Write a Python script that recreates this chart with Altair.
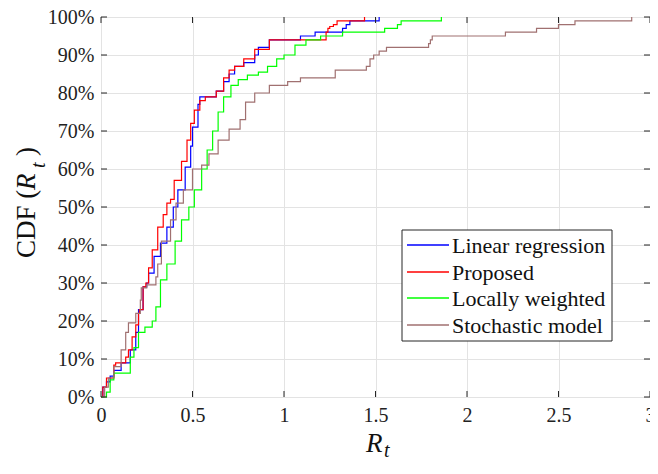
import altair as alt
import pandas as pd

series_names = ["Linear regression", "Proposed", "Locally weighted", "Stochastic model"]
series_colors = ["#0000FF", "#FF0000", "#00FF00", "#A07070"]

lr_x = [0, 0.01, 0.03, 0.05, 0.07, 0.11, 0.16, 0.19, 0.205, 0.23, 0.25, 0.26, 0.29, 0.325,
        0.36, 0.395, 0.42, 0.46, 0.49, 0.50, 0.53, 0.54, 0.63, 0.67, 0.70, 0.73, 0.78,
        0.84, 0.86, 0.92, 1.09, 1.17, 1.32, 1.34, 1.36, 1.52]
lr_cdf = [0, 2.6, 4, 5.5, 7, 9, 12.4, 17, 23, 29, 30, 32.6, 37, 40.5,
          44.7, 50, 54.5, 60.5, 66, 71, 77, 79, 80.5, 83, 85, 87, 88,
          90, 92, 94, 95, 96, 97, 98, 99, 100]

pr_x = [0, 0.01, 0.03, 0.07, 0.08, 0.135, 0.15, 0.17, 0.19, 0.205, 0.21, 0.23, 0.245, 0.26,
        0.28, 0.31, 0.34, 0.36, 0.38, 0.40, 0.44, 0.47, 0.49, 0.51, 0.54, 0.57, 0.63,
        0.67, 0.70, 0.73, 0.78, 0.84, 0.92, 1.23, 1.24, 1.25, 1.27, 1.29, 1.44]
pr_cdf = [0, 2.6, 5, 8.4, 9, 10.5, 12.4, 15.8, 19, 22, 23, 29, 30, 34,
          38.7, 44.7, 48, 51, 52, 57, 62, 67.6, 72, 75.5, 78, 79, 80.5,
          84, 86, 87, 89, 91.5, 94, 96, 97, 97.5, 98, 99, 100]

lw_x = [0, 0.03, 0.05, 0.07, 0.16, 0.18, 0.205, 0.24, 0.28, 0.30, 0.325, 0.36, 0.405, 0.44,
        0.48, 0.51, 0.55, 0.58, 0.61, 0.64, 0.67, 0.71, 0.75, 0.80, 0.86, 0.91, 0.96,
        1.0, 1.06, 1.12, 1.2, 1.32, 1.55, 1.62, 1.64, 1.86]
lw_cdf = [0, 1.3, 4.5, 6.3, 10.5, 13, 17, 18.4, 20, 23.7, 30.8, 35, 41, 46.6,
          50, 54.5, 60, 65, 70, 75, 79, 82, 83.5, 84.7, 85.5, 87, 89,
          90, 92.6, 94, 95, 96, 97, 98, 99, 100]

sm_x = [0, 0.02, 0.04, 0.07, 0.11, 0.135, 0.15, 0.19, 0.215, 0.22, 0.25, 0.30, 0.31, 0.33,
        0.38, 0.41, 0.45, 0.50, 0.55, 0.59, 0.64, 0.70, 0.76, 0.79, 0.84, 0.92, 1.02,
        1.09, 1.28, 1.45, 1.47, 1.49, 1.52, 1.56, 1.79, 1.80, 1.81, 2.21, 2.38, 2.50,
        2.59, 2.90]
sm_cdf = [0, 2.6, 5, 8, 12.4, 17, 19.5, 22, 25.5, 28.7, 29.5, 31.6, 35, 41,
          46.6, 51, 54.5, 60, 61, 64, 67.6, 70.5, 73, 77.6, 80, 82, 83,
          84, 86, 87, 89, 90, 91, 92, 93, 94, 95, 96, 97, 98,
          99, 100]

x_ticks = [0, 0.5, 1, 1.5, 2, 2.5, 3]
y_ticks = [0, 10, 20, 30, 40, 50, 60, 70, 80, 90, 100]

series_x = [lr_x, pr_x, lw_x, sm_x]
series_y = [lr_cdf, pr_cdf, lw_cdf, sm_cdf]

W, H = 549, 380
LEFT = 93
FONT = "Liberation Serif"
FRAME = "#262626"

x_scale = alt.Scale(domain=[0, 3], nice=False)
y_scale = alt.Scale(domain=[0, 100], nice=False)

X_AXIS = alt.Axis(values=x_ticks, grid=True, gridColor="#e3e3e3", ticks=False,
                  domain=False, labelFont=FONT, labelFontSize=20, labelColor="#222",
                  labelPadding=8, title=None, labelFlush=False, format="~g")
Y_AXIS = alt.Axis(values=y_ticks, grid=True, gridColor="#e3e3e3", ticks=False,
                  domain=False, labelFont=FONT, labelFontSize=20, labelColor="#222",
                  labelPadding=7, title=None, labelExpr="datum.value + '%'")

one = pd.DataFrame({"a": [0]})

layers = []
for i, (name, col) in enumerate(zip(series_names, series_colors)):
    df = pd.DataFrame({"x": series_x[i], "y": series_y[i], "s": name})
    layers.append(
        alt.Chart(df).mark_line(interpolate="step-after", color=col, strokeWidth=1.2).encode(
            x=alt.X("x:Q", scale=x_scale, axis=X_AXIS),
            y=alt.Y("y:Q", scale=y_scale, axis=Y_AXIS),
            order=alt.Order("x:Q"),
        )
    )

# inward ticks
xt = pd.DataFrame({"x": x_ticks})
yt = pd.DataFrame({"y": y_ticks})
layers.append(alt.Chart(xt).mark_rule(color=FRAME).encode(
    x=alt.X("x:Q", scale=x_scale, axis=X_AXIS), y=alt.value(H), y2=alt.value(H - 6)))
layers.append(alt.Chart(xt).mark_rule(color=FRAME).encode(
    x=alt.X("x:Q", scale=x_scale, axis=X_AXIS), y=alt.value(0), y2=alt.value(6)))
layers.append(alt.Chart(yt).mark_rule(color=FRAME).encode(
    y=alt.Y("y:Q", scale=y_scale, axis=Y_AXIS), x=alt.value(0), x2=alt.value(6)))
layers.append(alt.Chart(yt).mark_rule(color=FRAME).encode(
    y=alt.Y("y:Q", scale=y_scale, axis=Y_AXIS), x=alt.value(W), x2=alt.value(W - 6)))

# legend
legend_rows = [228, 255, 281, 308]
layers.append(alt.Chart(one).mark_rect(fill="white", stroke=FRAME, strokeWidth=1).encode(
    x=alt.value(301), x2=alt.value(511), y=alt.value(213), y2=alt.value(324)))
for i, (name, col) in enumerate(zip(series_names, series_colors)):
    yy = legend_rows[i]
    layers.append(alt.Chart(one).mark_rule(color=col, strokeWidth=1.3).encode(
        x=alt.value(306), x2=alt.value(348), y=alt.value(yy)))
    layers.append(alt.Chart(one).mark_text(text=name, font=FONT, fontSize=22, align="left",
                                           baseline="middle", color="#111").encode(
        x=alt.value(351), y=alt.value(yy + 1)))

# y-axis title: CDF (R_t)
layers.append(alt.Chart(one).mark_text(text="CDF (", font=FONT, fontSize=27, angle=270,
                                       align="left", baseline="alphabetic", color="#111").encode(
    x=alt.value(-66), y=alt.value(241)))
layers.append(alt.Chart(one).mark_text(text="R", font=FONT, fontSize=27, fontStyle="italic",
                                       angle=270, align="left", baseline="alphabetic",
                                       color="#111").encode(x=alt.value(-66), y=alt.value(173)))
layers.append(alt.Chart(one).mark_text(text="t", font=FONT, fontSize=20, fontStyle="italic",
                                       angle=270, align="left", baseline="alphabetic",
                                       color="#111").encode(x=alt.value(-56), y=alt.value(151)))
layers.append(alt.Chart(one).mark_text(text=")", font=FONT, fontSize=27, angle=270,
                                       align="left", baseline="alphabetic", color="#111").encode(
    x=alt.value(-66), y=alt.value(139)))

# x-axis title: R_t
layers.append(alt.Chart(one).mark_text(text="R", font=FONT, fontSize=27, fontStyle="italic",
                                       align="left", baseline="alphabetic", color="#111").encode(
    x=alt.value(265), y=alt.value(435)))
layers.append(alt.Chart(one).mark_text(text="t", font=FONT, fontSize=20, fontStyle="italic",
                                       align="left", baseline="alphabetic", color="#111").encode(
    x=alt.value(283), y=alt.value(440)))

chart = alt.layer(*layers).properties(
    width=W, height=H,
    background="white",
    autosize=alt.AutoSizeParams(type="none"),
    padding={"left": LEFT, "top": 9, "right": 0, "bottom": 64},
).configure_view(stroke=FRAME, strokeWidth=1)

chart.save("out.html", embed_options={"renderer": "svg", "actions": False})
